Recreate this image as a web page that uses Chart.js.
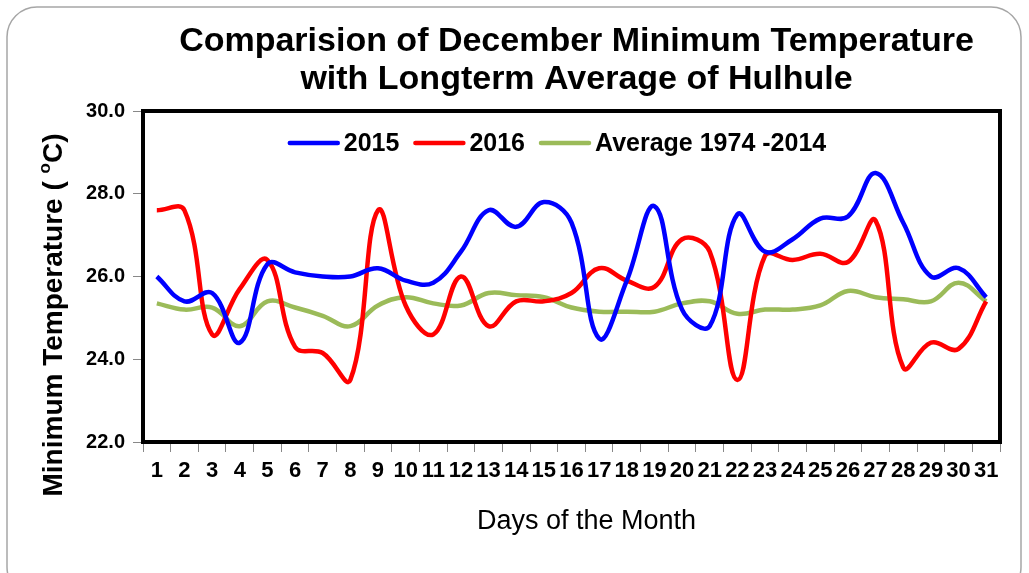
<!DOCTYPE html>
<html>
<head>
  <meta charset="utf-8" />
  <title>December Minimum Temperature - Hulhule</title>
  <script src="https://cdn.jsdelivr.net/npm/chart.js"></script>
  <style>
    body { margin: 0; background: #fff; }
    #wrap { width: 1029px; height: 573px; position: relative; }
  </style>
</head>
<body>
  <div id="wrap"><canvas id="chart"></canvas></div>
  <script>
    var days = ['1','2','3','4','5','6','7','8','9','10','11','12','13','14','15','16',
                '17','18','19','20','21','22','23','24','25','26','27','28','29','30','31'];
    var min2015 = [26.0, 25.4, 25.6, 24.4, 26.3, 26.1, 26.0, 26.0, 26.2, 25.9, 25.85, 26.6, 27.6, 27.2, 27.8, 27.3,
                   24.5, 25.9, 27.7, 25.2, 24.8, 27.5, 26.6, 26.9, 27.4, 27.45, 28.5, 27.3, 26.0, 26.2, 25.5];
    var min2016 = [27.6, 27.6, 24.6, 25.7, 26.4, 24.3, 24.15, 23.5, 27.6, 25.3, 24.6, 26.0, 24.8, 25.4, 25.4, 25.6,
                   26.2, 25.9, 25.75, 26.9, 26.6, 23.5, 26.5, 26.4, 26.55, 26.35, 27.35, 23.8, 24.4, 24.25, 25.4];
    var avg7414 = [25.35, 25.2, 25.25, 24.8, 25.4, 25.25, 25.05, 24.8, 25.3, 25.5, 25.35, 25.3, 25.6, 25.55, 25.5, 25.25,
                   25.15, 25.15, 25.15, 25.35, 25.4, 25.1, 25.2, 25.2, 25.3, 25.65, 25.5, 25.45, 25.4, 25.85, 25.4];
    var yTicks = [22, 24, 26, 28, 30];

    var FONT = "'Liberation Sans', Arial, sans-serif";

    // outer frame, title, axis titles, legend and the plot box
    var decor = {
      id: 'decor',
      beforeDraw: function(chart) {
        var ctx = chart.ctx;
        ctx.save();
        ctx.strokeStyle = '#a6a6a6';
        ctx.lineWidth = 1.5;
        ctx.beginPath();
        ctx.roundRect(7, 7, 1014, 590, 30);
        ctx.stroke();
        ctx.restore();
      },
      afterDraw: function(chart) {
        var ctx = chart.ctx, a = chart.chartArea;
        ctx.save();
        ctx.strokeStyle = '#000';
        ctx.lineWidth = 4;
        ctx.strokeRect(a.left, a.top, a.right - a.left, a.bottom - a.top);

        ctx.fillStyle = '#000';
        ctx.textAlign = 'center';
        ctx.textBaseline = 'middle';
        var cx = (a.left + a.right) / 2;
        ctx.font = 'bold 34px ' + FONT;
        ctx.fillText('Comparision of December Minimum Temperature', cx + 5, 42);
        ctx.fillText('with Longterm Average of Hulhule', cx + 5, 80);

        ctx.font = '27px ' + FONT;
        ctx.fillText('Days of the Month', cx + 15, 522);

        // legend inside the plot, top
        ctx.font = 'bold 25px ' + FONT;
        var sets = chart.data.datasets, lineW = 52, gapT = 4, gapI = 14, total = 0;
        sets.forEach(function(d, i) {
          total += lineW + gapT + ctx.measureText(d.label).width + (i ? gapI : 0);
        });
        var lx = 557 - total / 2, ly = 143;
        ctx.textAlign = 'left';
        ctx.lineCap = 'round';
        sets.forEach(function(d) {
          ctx.strokeStyle = d.borderColor;
          ctx.lineWidth = 4.5;
          ctx.beginPath();
          ctx.moveTo(lx + 2, ly);
          ctx.lineTo(lx + lineW - 2, ly);
          ctx.stroke();
          lx += lineW + gapT;
          ctx.fillText(d.label, lx, ly + 1);
          lx += ctx.measureText(d.label).width + gapI;
        });

        // y title with superscript o
        ctx.translate(54, 315);
        ctx.rotate(-Math.PI / 2);
        var big = 'bold 28px ' + FONT, small = 'bold 17px ' + FONT;
        var p1 = 'Minimum Temperature ( ', p2 = 'o', p3 = 'C)';
        ctx.font = big; var w1 = ctx.measureText(p1).width, w3 = ctx.measureText(p3).width;
        ctx.font = small; var w2 = ctx.measureText(p2).width;
        var x = -(w1 + w2 + w3) / 2;
        ctx.font = big; ctx.fillText(p1, x, 0);
        ctx.font = small; ctx.fillText(p2, x + w1, -9);
        ctx.font = big; ctx.fillText(p3, x + w1 + w2, 0);
        ctx.restore();
      }
    };

    var lineSet = function(label, data, color) {
      return {
        label: label,
        data: data,
        borderColor: color,
        backgroundColor: color,
        borderWidth: 4.5,
        pointRadius: 0,
        tension: 0.4,
        fill: false
      };
    };

    new Chart(document.getElementById('chart'), {
      type: 'line',
      data: {
        labels: days,
        datasets: [
          lineSet('2015', min2015, '#0000ff'),
          lineSet('2016', min2016, '#ff0000'),
          lineSet('Average 1974 -2014', avg7414, '#9bbb59')
        ]
      },
      options: {
        responsive: true,
        maintainAspectRatio: false,
        animation: false,
        events: [],
        layout: { padding: { top: 111, right: 29, left: 0, bottom: 0 } },
        plugins: {
          title: { display: false },
          tooltip: { enabled: false },
          legend: { display: false }
        },
        scales: {
          x: {
            offset: true,
            afterFit: function(s) { s.height = 131; },
            border: { display: false },
            grid: { offset: true, drawOnChartArea: false, drawTicks: true, tickLength: 10, color: '#888', tickWidth: 1 },
            ticks: {
              autoSkip: false, maxRotation: 0, minRotation: 0, padding: 6, color: '#000',
              font: { family: FONT, size: 22, weight: 'bold' }
            }
          },
          y: {
            min: 22, max: 30,
            afterFit: function(s) { s.width = 143; },
            afterBuildTicks: function(s) { s.ticks = yTicks.map(function(v) { return { value: v }; }); },
            border: { display: false },
            grid: { drawOnChartArea: false, drawTicks: true, tickLength: 10, color: '#888', tickWidth: 1 },
            ticks: {
              padding: 8, color: '#000',
              font: { family: FONT, size: 20, weight: 'bold' },
              callback: function(v) { return Number(v).toFixed(1); }
            }
          }
        }
      },
      plugins: [decor]
    });
  </script>
</body>
</html>
